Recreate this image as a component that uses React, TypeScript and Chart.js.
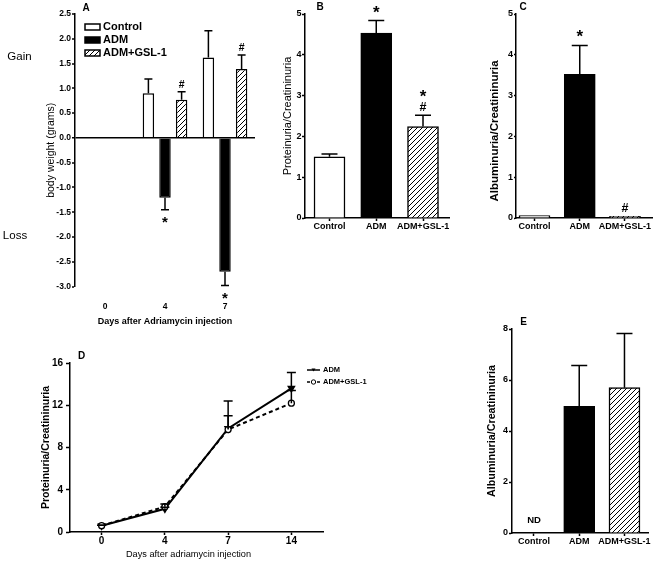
import React, { useEffect, useRef } from 'react';
import { Chart, registerables } from 'chart.js';

Chart.register(...registerables);

const PAGE_W = 659;
const PAGE_H = 563;
const FONT = "'Liberation Sans', Arial, Helvetica, sans-serif";
const INK = '#000000';

// ---------------- data ----------------
const groups = ['Control', 'ADM', 'ADM+GSL-1'];

// Panel A – body weight change
const daysA = ['0', '4', '7'];
const controlA = [null, 0.9, 1.62];
const controlErrA = [0, 0.29, 0.54];
const admA = [null, -1.21, -2.7];
const admErrA = [0, 0.24, 0.28];
const admMarksA = ['', '*', '*'];
const gslA = [null, 0.77, 1.39];
const gslErrA = [0, 0.16, 0.28];
const gslMarksA = ['', '#', '#'];

// Panel B – proteinuria
const protB = [1.5, 4.53, 2.24];
const protErrB = [0.07, 0.31, 0.28];
const protMarksB = ['', '*', '#*'];

// Panel C – albuminuria
const albC = [0.06, 3.52, 0.04];
const albErrC = [0, 0.71, 0];
const albMarksC = ['', '*', '#'];

// Panel D – proteinuria time course
const daysD = ['0', '4', '7', '14'];
const admD = [0.6, 2.2, 9.8, 13.6];
const admErrD = [0.05, 0.15, 2.6, 1.5];
const gslD = [0.6, 2.4, 9.7, 12.2];
const gslErrD = [0.05, 0.25, 1.3, 1.2];

// Panel E – albuminuria
const albE = [null, 4.97, 5.7];
const albErrE = [0, 1.6, 2.12];
const notesE = ['ND', '', ''];

// ---------------- helpers ----------------
function frame(l: number, t: number, r: number, b: number, yW: number, xH: number) {
  return {
    padding: { left: l - yW, top: t, right: PAGE_W - r, bottom: PAGE_H - b - xH },
    fitY: (s: any) => { s.width = yW; },
    fitX: (s: any) => { s.height = xH; },
  };
}

function makeHatch(): CanvasPattern {
  const c = document.createElement('canvas');
  c.width = 5;
  c.height = 5;
  const g = c.getContext('2d')!;
  g.fillStyle = '#ffffff';
  g.fillRect(0, 0, 5, 5);
  g.strokeStyle = INK;
  g.lineWidth = 1;
  g.beginPath();
  g.moveTo(0, 5); g.lineTo(5, 0);
  g.moveTo(-1, 1); g.lineTo(1, -1);
  g.moveTo(4, 6); g.lineTo(6, 4);
  g.stroke();
  return g.createPattern(c, 'repeat')!;
}

type MarkCfg = { cap: number; lw: number; gap: Record<string, number>; step: number; size: Record<string, number> };
const RISE: Record<string, number> = { '*': 0.56, '#': 0.36 };

function errorBars(cfg: MarkCfg) {
  return {
    id: 'errorBars',
    afterDatasetsDraw(chart: any) {
      const ctx = chart.ctx;
      const ys = chart.scales.y;
      chart.data.datasets.forEach((ds: any, i: number) => {
        const meta = chart.getDatasetMeta(i);
        meta.data.forEach((el: any, j: number) => {
          const raw = ds.data[j];
          const v = raw !== null && typeof raw === 'object' ? raw.y : raw;
          if (v === null || v === undefined) return;
          const sign = v < 0 ? -1 : 1;
          const e = (ds.errors && ds.errors[j]) || 0;
          const from = ys.getPixelForValue(v);
          const tip = ys.getPixelForValue(v + sign * e);
          ctx.save();
          ctx.strokeStyle = INK;
          ctx.lineWidth = cfg.lw;
          if (e > 0) {
            ctx.beginPath();
            ctx.moveTo(el.x, from);
            ctx.lineTo(el.x, tip);
            ctx.moveTo(el.x - cfg.cap / 2, tip);
            ctx.lineTo(el.x + cfg.cap / 2, tip);
            ctx.stroke();
          }
          const marks: string = (ds.marks && ds.marks[j]) || '';
          let dist = 0;
          Array.from(marks).forEach((ch, k) => {
            dist = k === 0 ? cfg.gap[ch] : dist + cfg.step;
            const size = cfg.size[ch];
            ctx.font = `bold ${size}px ${FONT}`;
            ctx.fillStyle = INK;
            ctx.textAlign = 'center';
            ctx.textBaseline = 'alphabetic';
            const cy = tip - sign * dist;
            ctx.fillText(ch, el.x, cy + RISE[ch] * size);
          });
          ctx.restore();
        });
      });
    },
  };
}

type Txt = { text: string; x: number; y: number; size: number; bold?: boolean; rot?: boolean };
function texts(items: Txt[]) {
  return {
    id: 'texts',
    afterDraw(chart: any) {
      const ctx = chart.ctx;
      items.forEach((t) => {
        ctx.save();
        ctx.font = `${t.bold ? 'bold ' : ''}${t.size}px ${FONT}`;
        ctx.fillStyle = INK;
        ctx.textAlign = 'center';
        ctx.textBaseline = 'middle';
        ctx.translate(t.x, t.y);
        if (t.rot) ctx.rotate(-Math.PI / 2);
        ctx.fillText(t.text, 0, 0);
        ctx.restore();
      });
    },
  };
}

const noPlugins = { legend: { display: false }, tooltip: { enabled: false } };
const tf = (size: number, bold = true) => ({ family: FONT, size, weight: bold ? ('bold' as const) : ('normal' as const) });

// ---------------- panel A ----------------
function makeA(canvas: HTMLCanvasElement, hatch: CanvasPattern) {
  const f = frame(75, 14, 255, 286.5, 35, 40.9);
  const isZero = (c: any) => Math.abs(c.tick.value) < 1e-9;
  const legendA = {
    id: 'legendA',
    afterDraw(chart: any) {
      const ctx = chart.ctx;
      chart.data.datasets.forEach((ds: any, i: number) => {
        const cy = 27 + i * 13;
        ctx.save();
        ctx.fillStyle = ds.backgroundColor;
        ctx.fillRect(85, cy - 3, 15, 6);
        ctx.strokeStyle = INK;
        ctx.lineWidth = 1.5;
        ctx.strokeRect(85, cy - 3, 15, 6);
        ctx.fillStyle = INK;
        ctx.font = `bold 11px ${FONT}`;
        ctx.textAlign = 'left';
        ctx.textBaseline = 'middle';
        ctx.fillText(ds.label, 103, cy);
        ctx.restore();
      });
    },
  };
  const bar = { borderColor: INK, borderWidth: 1.5, barPercentage: 0.69, categoryPercentage: 0.83 };
  return new Chart(canvas, {
    type: 'bar',
    data: {
      labels: daysA,
      datasets: [
        { label: groups[0], data: controlA, backgroundColor: '#ffffff', errors: controlErrA, ...bar } as any,
        { label: groups[1], data: admA, backgroundColor: INK, errors: admErrA, marks: admMarksA, ...bar } as any,
        { label: groups[2], data: gslA, backgroundColor: hatch, errors: gslErrA, marks: gslMarksA, ...bar } as any,
      ],
    },
    options: {
      animation: false,
      responsive: false,
      layout: { padding: f.padding },
      plugins: noPlugins as any,
      scales: {
        x: {
          grid: { display: false, drawTicks: false },
          border: { display: false },
          ticks: { font: tf(8.5), color: INK, padding: 15.4 },
          title: { display: true, text: 'Days after Adriamycin injection', font: tf(9), color: INK, padding: 0 },
          afterFit: f.fitX,
        },
        y: {
          min: -3,
          max: 2.5,
          ticks: { stepSize: 0.5, font: tf(8.5), color: INK, padding: 1, callback: (v: any) => Number(v).toFixed(1) },
          grid: {
            drawTicks: true,
            tickLength: 3,
            tickColor: INK,
            tickWidth: 1.5,
            color: (c: any) => (isZero(c) ? INK : 'rgba(0,0,0,0)'),
            lineWidth: (c: any) => (isZero(c) ? 1.5 : 0),
          },
          border: { display: true, color: INK, width: 1.5 },
          title: { display: true, text: 'body weight (grams)', font: tf(10.5, false), color: INK, padding: { top: 4.7, bottom: 0 } },
          afterFit: f.fitY,
        },
      },
    } as any,
    plugins: [
      errorBars({ cap: 8, lw: 1.5, gap: { '#': 8, '*': 9 }, step: 13, size: { '#': 10.5, '*': 15 } }),
      legendA,
      texts([
        { text: 'A', x: 86, y: 8.5, size: 10, bold: true },
        { text: 'Gain', x: 19.5, y: 57, size: 11.5 },
        { text: 'Loss', x: 15, y: 236, size: 11.5 },
      ]),
    ],
  });
}

// ---------------- bar panels B, C, E ----------------
type BarPanel = {
  l: number; t: number; r: number; b: number; yW: number; xH: number;
  xmin: number; xmax: number; ymax: number; step: number;
  values: (number | null)[]; errors: number[]; marks?: string[];
  yTitle?: { text: string; size: number; bold: boolean; pad: number };
  yTickLen: number; yTickPad: number; yTickSize: number;
  extra: Txt[]; notes?: string[];
};

function makeBars(canvas: HTMLCanvasElement, hatch: CanvasPattern, p: BarPanel) {
  const f = frame(p.l, p.t, p.r, p.b, p.yW, p.xH);
  const notePlugin = {
    id: 'notes',
    afterDraw(chart: any) {
      if (!p.notes) return;
      const ctx = chart.ctx;
      p.notes.forEach((n, j) => {
        if (!n) return;
        ctx.save();
        ctx.font = `bold 9.5px ${FONT}`;
        ctx.fillStyle = INK;
        ctx.textAlign = 'center';
        ctx.textBaseline = 'middle';
        ctx.fillText(n, chart.scales.x.getPixelForValue(j + 1), chart.scales.y.getPixelForValue(0) - 13);
        ctx.restore();
      });
    },
  };
  return new Chart(canvas, {
    type: 'bar',
    data: {
      datasets: [
        {
          label: 'ratio',
          data: groups.map((_, i) => ({ x: i + 1, y: p.values[i] })),
          backgroundColor: ['#ffffff', INK, hatch],
          borderColor: INK,
          borderWidth: 1.5,
          barThickness: 31,
          errors: p.errors,
          marks: p.marks,
        } as any,
      ],
    },
    options: {
      animation: false,
      responsive: false,
      layout: { padding: f.padding },
      plugins: noPlugins as any,
      scales: {
        x: {
          type: 'linear',
          min: p.xmin,
          max: p.xmax,
          offset: false,
          afterBuildTicks: (s: any) => { s.ticks = groups.map((_, i) => ({ value: i + 1 })); },
          ticks: { font: tf(9), color: INK, padding: 0, autoSkip: false, maxRotation: 0, minRotation: 0, callback: (v: any) => groups[Math.round(v) - 1] ?? '' },
          grid: { offset: false, drawOnChartArea: false, drawTicks: true, tickLength: 3, tickColor: INK, tickWidth: 1.5 },
          border: { display: true, color: INK, width: 1.5 },
          afterFit: f.fitX,
        },
        y: {
          min: 0,
          max: p.ymax,
          ticks: { stepSize: p.step, font: tf(p.yTickSize), color: INK, padding: p.yTickPad },
          grid: { drawOnChartArea: false, drawTicks: true, tickLength: p.yTickLen, tickColor: INK, tickWidth: 1.5 },
          border: { display: true, color: INK, width: 1.5 },
          title: p.yTitle
            ? { display: true, text: p.yTitle.text, font: tf(p.yTitle.size, p.yTitle.bold), color: INK, padding: { top: p.yTitle.pad, bottom: 0 } }
            : { display: false },
          afterFit: f.fitY,
        },
      },
    } as any,
    plugins: [
      errorBars({ cap: 16, lw: 1.5, gap: { '#': 9, '*': 12.5 }, step: 14, size: { '#': 12.5, '*': 17 } }),
      notePlugin,
      texts(p.extra),
    ],
  });
}

// ---------------- panel D ----------------
function makeD(canvas: HTMLCanvasElement) {
  const f = frame(70, 363, 323, 532, 40, 20);
  const legendD = {
    id: 'legendD',
    afterDraw(chart: any) {
      const ctx = chart.ctx;
      chart.data.datasets.forEach((ds: any, i: number) => {
        const y = 370 + i * 12;
        ctx.save();
        ctx.strokeStyle = INK;
        ctx.lineWidth = 1.5;
        ctx.setLineDash(ds.borderDash ? [3, 2] : []);
        ctx.beginPath();
        ctx.moveTo(307, y);
        ctx.lineTo(320, y);
        ctx.stroke();
        ctx.setLineDash([]);
        ctx.beginPath();
        if (ds.pointStyle === 'circle') {
          ctx.arc(313.5, y, 2.2, 0, 2 * Math.PI);
          ctx.fillStyle = '#ffffff';
          ctx.fill();
          ctx.lineWidth = 1;
          ctx.stroke();
        } else {
          ctx.moveTo(311.5, y - 1.5);
          ctx.lineTo(315.5, y - 1.5);
          ctx.lineTo(313.5, y + 1.5);
          ctx.closePath();
          ctx.fillStyle = INK;
          ctx.fill();
        }
        ctx.font = `bold 7.5px ${FONT}`;
        ctx.fillStyle = INK;
        ctx.textAlign = 'left';
        ctx.textBaseline = 'middle';
        ctx.fillText(ds.label, 323, y);
        ctx.restore();
      });
    },
  };
  return new Chart(canvas, {
    type: 'line',
    data: {
      labels: daysD,
      datasets: [
        {
          label: 'ADM', data: admD, errors: admErrD, borderColor: INK, borderWidth: 2, tension: 0,
          pointStyle: 'triangle', rotation: 180, pointRadius: 3, pointBackgroundColor: INK, pointBorderColor: INK, order: 1,
        } as any,
        {
          label: 'ADM+GSL-1', data: gslD, errors: gslErrD, borderColor: INK, borderWidth: 2, borderDash: [4, 3], tension: 0,
          pointStyle: 'circle', pointRadius: 3, pointBackgroundColor: '#ffffff', pointBorderColor: INK, pointBorderWidth: 1.3, order: 0,
        } as any,
      ],
    },
    options: {
      animation: false,
      responsive: false,
      layout: { padding: f.padding },
      plugins: noPlugins as any,
      scales: {
        x: {
          type: 'category',
          offset: true,
          ticks: { font: tf(10), color: INK, padding: 0 },
          grid: { offset: false, drawOnChartArea: false, drawTicks: true, tickLength: 3, tickColor: INK, tickWidth: 1.5 },
          border: { display: true, color: INK, width: 1.5 },
          afterFit: f.fitX,
        },
        y: {
          min: 0,
          max: 16,
          ticks: { stepSize: 4, font: tf(10), color: INK, padding: 3 },
          grid: { drawOnChartArea: false, drawTicks: true, tickLength: 4, tickColor: INK, tickWidth: 1.5 },
          border: { display: true, color: INK, width: 1.5 },
          title: { display: true, text: 'Proteinuria/Creatininuria', font: tf(10.5), color: INK, padding: { top: 10.2, bottom: 0 } },
          afterFit: f.fitY,
        },
      },
    } as any,
    plugins: [
      errorBars({ cap: 9, lw: 1.5, gap: {}, step: 0, size: {} }),
      legendD,
      texts([
        { text: 'D', x: 81.5, y: 356, size: 10, bold: true },
        { text: 'Days after adriamycin injection', x: 188.5, y: 554.5, size: 9.2 },
      ]),
    ],
  });
}

export default function App() {
  const refs = useRef<(HTMLCanvasElement | null)[]>([]);
  useEffect(() => {
    Chart.defaults.font.family = FONT;
    Chart.defaults.color = INK;
    const hatch = makeHatch();
    const c = refs.current;
    const charts: Chart[] = [
      makeA(c[0]!, hatch),
      makeBars(c[1]!, hatch, {
        l: 305, t: 14, r: 449, b: 218, yW: 30, xH: 20,
        xmin: 0.476, xmax: 3.556, ymax: 5, step: 1,
        values: protB, errors: protErrB, marks: protMarksB,
        yTitle: { text: 'Proteinuria/Creatininuria', size: 11, bold: false, pad: 6.4 },
        yTickLen: 3, yTickPad: 0.5, yTickSize: 9,
        extra: [{ text: 'B', x: 320, y: 7, size: 10, bold: true }],
      }),
      makeBars(c[2]!, hatch, {
        l: 516, t: 14, r: 652, b: 218, yW: 20, xH: 20,
        xmin: 0.591, xmax: 3.597, ymax: 5, step: 1,
        values: albC, errors: albErrC, marks: albMarksC,
        yTickLen: 2, yTickPad: 1, yTickSize: 9,
        extra: [
          { text: 'C', x: 523, y: 7.5, size: 10, bold: true },
          { text: 'Albuminuria/Creatininuria', x: 494.5, y: 131, size: 11.5, bold: true, rot: true },
        ],
      }),
      makeD(c[3]!),
      makeBars(c[4]!, hatch, {
        l: 512, t: 329, r: 648, b: 533, yW: 30, xH: 20,
        xmin: 0.514, xmax: 3.52, ymax: 8, step: 2,
        values: albE, errors: albErrE, notes: notesE,
        yTitle: { text: 'Albuminuria/Creatininuria', size: 10.75, bold: true, pad: 3.5 },
        yTickLen: 3, yTickPad: 1, yTickSize: 9,
        extra: [{ text: 'E', x: 523.5, y: 322, size: 10, bold: true }],
      }),
    ];
    return () => charts.forEach((ch) => ch.destroy());
  }, []);

  return (
    <div style={{ position: 'fixed', left: 0, top: 0, width: PAGE_W, height: PAGE_H, background: '#ffffff' }}>
      {[0, 1, 2, 3, 4].map((i) => (
        <canvas
          key={i}
          ref={(el) => { refs.current[i] = el; }}
          width={PAGE_W}
          height={PAGE_H}
          style={{ position: 'absolute', left: 0, top: 0 }}
        />
      ))}
    </div>
  );
}
